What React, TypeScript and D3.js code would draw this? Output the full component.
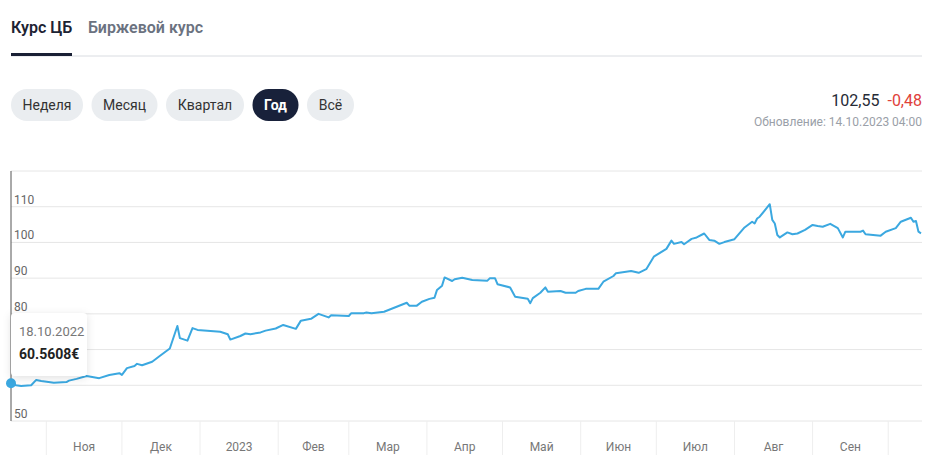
import * as d3 from 'd3'

const dates = [
  '2022-10-18', '2022-10-20', '2022-10-22', '2022-10-26', '2022-10-28', '2022-10-30',
  '2022-11-04', '2022-11-09', '2022-11-10', '2022-11-13', '2022-11-17', '2022-11-22',
  '2022-11-26', '2022-11-30', '2022-12-01', '2022-12-03', '2022-12-06', '2022-12-07',
  '2022-12-09', '2022-12-13', '2022-12-16', '2022-12-20', '2022-12-23', '2022-12-24',
  '2022-12-27', '2022-12-29', '2022-12-31', '2023-01-09', '2023-01-12', '2023-01-13',
  '2023-01-17', '2023-01-19', '2023-01-21', '2023-01-25', '2023-01-27', '2023-01-31',
  '2023-02-03', '2023-02-08', '2023-02-10', '2023-02-14', '2023-02-17', '2023-02-21',
  '2023-02-22', '2023-03-01', '2023-03-02', '2023-03-07', '2023-03-08', '2023-03-10',
  '2023-03-15', '2023-03-20', '2023-03-24', '2023-03-25', '2023-03-28', '2023-03-30',
  '2023-04-02', '2023-04-04', '2023-04-05', '2023-04-07', '2023-04-08', '2023-04-11',
  '2023-04-12', '2023-04-15', '2023-04-19', '2023-04-25', '2023-04-26', '2023-04-28',
  '2023-04-29', '2023-05-04', '2023-05-06', '2023-05-11', '2023-05-12', '2023-05-13',
  '2023-05-16', '2023-05-18', '2023-05-19', '2023-05-24', '2023-05-26', '2023-05-30',
  '2023-05-31', '2023-06-03', '2023-06-08', '2023-06-10', '2023-06-14', '2023-06-15',
  '2023-06-17', '2023-06-21', '2023-06-24', '2023-06-27', '2023-06-30', '2023-07-05',
  '2023-07-07', '2023-07-08', '2023-07-11', '2023-07-12', '2023-07-15', '2023-07-17',
  '2023-07-20', '2023-07-22', '2023-07-24', '2023-07-26', '2023-07-28', '2023-08-01',
  '2023-08-05', '2023-08-08', '2023-08-09', '2023-08-10', '2023-08-11', '2023-08-15',
  '2023-08-16', '2023-08-17', '2023-08-18', '2023-08-19', '2023-08-22', '2023-08-24',
  '2023-08-26', '2023-08-29', '2023-09-01', '2023-09-03', '2023-09-05', '2023-09-08',
  '2023-09-11', '2023-09-13', '2023-09-14', '2023-09-20', '2023-09-21', '2023-09-22',
  '2023-09-28', '2023-09-30', '2023-10-04', '2023-10-06', '2023-10-10', '2023-10-11',
  '2023-10-12', '2023-10-13', '2023-10-14',
]

const rates = [
  60.56, 60.0, 59.8, 60.0, 61.5, 61.2,
  60.7, 60.9, 61.3, 61.8, 62.6, 62.0,
  62.9, 63.4, 62.9, 64.8, 65.4, 66.0,
  65.6, 66.6, 68.2, 70.3, 76.6, 73.2,
  72.5, 76.0, 75.5, 75.0, 74.3, 72.8,
  73.8, 74.5, 74.3, 74.8, 75.3, 75.9,
  76.9, 75.8, 78.1, 78.6, 80.0, 79.0,
  79.6, 79.4, 80.2, 80.2, 80.4, 80.2,
  80.6, 82.0, 83.1, 82.3, 82.3, 83.4,
  84.2, 84.5, 86.7, 87.9, 90.2, 89.2,
  89.7, 90.1, 89.5, 89.3, 90.0, 90.0,
  88.3, 87.4, 84.8, 84.2, 83.0, 84.4,
  85.9, 87.4, 86.2, 86.4, 85.9, 85.9,
  86.4, 87.0, 87.0, 89.0, 90.6, 91.4,
  91.6, 92.0, 91.5, 92.5, 96.0, 98.2,
  100.5, 99.6, 100.1, 99.5, 101.0, 101.4,
  102.5, 100.7, 100.5, 99.6, 100.1, 100.9,
  104.2, 105.8, 105.3, 106.7, 107.2, 110.7,
  106.3, 105.3, 102.1, 101.4, 102.8, 102.3,
  102.5, 103.5, 104.9, 104.6, 104.4, 105.2,
  104.0, 101.4, 103.0, 103.0, 103.3, 102.3,
  101.9, 103.0, 104.0, 105.8, 106.9, 105.8,
  106.0, 103.0, 102.55,
]

const yTicks = [50, 60, 70, 80, 90, 100, 110, 120]
const monthLabels = ['Ноя', 'Дек', '2023', 'Фев', 'Мар', 'Апр', 'Май', 'Июн', 'Июл', 'Авг', 'Сен']
const periods = ['Неделя', 'Месяц', 'Квартал', 'Год', 'Всё']
const periodWidths = [72, 66, 78, 46, 47]
const activePeriod = 'Год'

const FONT = 'Roboto, "Noto Sans", sans-serif'
const LINE = '#3ba8e0'

// tooltip box (hover on the first point)
const TIP = { x: 11, y: 313, w: 76, h: 63 }

export default function App() {
  const parse = d3.timeParse('%Y-%m-%d')
  const points = dates.map((d, i) => ({ date: parse(d) as Date, value: rates[i] }))

  const x = d3.scaleTime()
    .domain([points[0].date, points[points.length - 1].date])
    .range([11, 921])
  const y = d3.scaleLinear().domain([50, 120]).range([421, 171])

  const line = d3.line<{ date: Date; value: number }>()
    .x(d => x(d.date))
    .y(d => y(d.value))

  const monthStarts = d3.timeMonth.range(d3.timeMonth.ceil(points[0].date), points[points.length - 1].date)
  const bandEdges = monthStarts.map(d => x(d))

  // pill buttons laid out left to right
  let px = 11
  const pills = periods.map((p, i) => {
    const item = { label: p, x: px, w: periodWidths[i] }
    px += periodWidths[i] + 8.5
    return item
  })

  const first = points[0]
  // tick labels covered by the tooltip are not visible
  const labelHidden = (t: number) => t === 120 || (y(t) - 3 > TIP.y && y(t) - 12 < TIP.y + TIP.h)

  return (
    <svg width={925} height={470} style={{ position: 'absolute', left: 0, top: 0, fontFamily: FONT }}>
      <defs>
        <filter id="tipShadow" x="-30%" y="-30%" width="160%" height="160%">
          <feDropShadow dx="0" dy="2" stdDeviation="4" floodColor="#000" floodOpacity="0.12" />
        </filter>
      </defs>
      <rect width={925} height={470} fill="#fff" />

      {/* tabs */}
      <text x={11} y={33} fontSize={16} fontWeight={600} fill="#1d2333">Курс ЦБ</text>
      <text x={88} y={33} fontSize={16} fontWeight={600} fill="#6b7280">Биржевой курс</text>
      <line x1={11} x2={922} y1={56} y2={56} stroke="#d9dce1" />
      <rect x={11} y={53} width={61} height={3} fill="#1a2035" />

      {/* period pills */}
      {pills.map(p => {
        const active = p.label === activePeriod
        return (
          <g key={p.label}>
            <rect x={p.x} y={89} width={p.w} height={32} rx={16} fill={active ? '#18213a' : '#eaedf0'} />
            <text x={p.x + p.w / 2} y={110} textAnchor="middle" fontSize={14}
              fontWeight={active ? 700 : 400} fill={active ? '#fff' : '#333'}>{p.label}</text>
          </g>
        )
      })}

      {/* current value */}
      <text x={922} y={106} textAnchor="end" fontSize={16}>
        <tspan fill="#262b36">102,55</tspan>
        <tspan fill="#e0413a" dx={8}>-0,48</tspan>
      </text>
      <text x={922} y={126} textAnchor="end" fontSize={12} fill="#9aa0a8">Обновление: 14.10.2023 04:00</text>

      {/* grid */}
      {yTicks.map(t => (
        <g key={t}>
          <line x1={11} x2={922} y1={y(t)} y2={y(t)} stroke="#e6e6e6" />
          {!labelHidden(t) && (
            <text x={14} y={y(t) - 3} fontSize={12} fill="#666">{t}</text>
          )}
        </g>
      ))}
      <line x1={11} x2={11} y1={171} y2={421} stroke="#555" />

      {/* month bands */}
      {bandEdges.map((bx, i) => (
        <line key={i} x1={bx} x2={bx} y1={421} y2={455} stroke="#eeeeee" />
      ))}
      {monthLabels.map((m, i) => (
        <text key={m} x={(bandEdges[i] + bandEdges[i + 1]) / 2} y={451}
          textAnchor="middle" fontSize={12} fill="#777">{m}</text>
      ))}

      <path d={line(points) || ''} fill="none" stroke={LINE} strokeWidth={2} strokeLinejoin="round" />

      {/* hover marker + tooltip */}
      <circle cx={x(first.date)} cy={y(first.value)} r={5} fill={LINE} />
      <g filter="url(#tipShadow)">
        <rect x={TIP.x} y={TIP.y} width={TIP.w} height={TIP.h} rx={4} fill="#fff" />
      </g>
      <text x={19} y={336} fontSize={13} fill="#777">18.10.2022</text>
      <text x={19} y={359} fontSize={14} fontWeight={700} fill="#222">60.5608€</text>
    </svg>
  )
}
